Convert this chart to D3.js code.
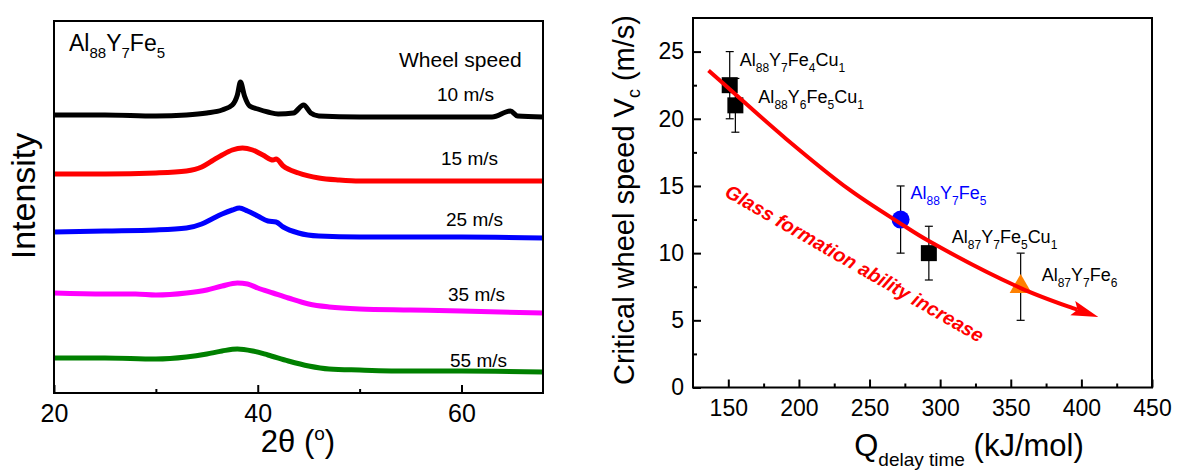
<!DOCTYPE html>
<html>
<head>
<meta charset="utf-8">
<script src="https://cdn.jsdelivr.net/npm/d3@7"></script>
<style>
  body { margin: 0; background: #fff; }
  svg { display: block; font-family: "Liberation Sans", Arial, sans-serif; }
</style>
</head>
<body>
<div id="chart"></div>
<script>
// ---- left panel data: XRD traces, [2theta, intensity (a.u., stacked)] ----
const speeds = ['10 m/s', '15 m/s', '25 m/s', '35 m/s', '55 m/s'];
const traceColors = ['#000000', '#ff0000', '#0000ff', '#ff00ff', '#008000'];

const xrd10 = [[20,278],[25,278],[30,277],[33,278],[35,280],[36.5,283],[37.5,288],[38,298],[38.3,311],
  [38.7,297],[39.2,287],[40,284],[41,281],[42,279],[43.5,280],[44.5,288],[45.2,280],[46,277],
  [50,276],[55,276],[60,276],[63,276],[64.8,282],[65.5,277],[68,276]];
const xrd15 = [[20,219],[25,219],[30,220],[33,222],[34.5,226],[35.5,232],[36.5,238],[37.5,243],[38.5,245],
  [39.5,243],[40.5,238],[41.5,233],[41.8,234],[42.5,227],[44,220],[46,215],[48,213],[50,212],
  [55,212],[60,212],[68,212]];
const xrd25 = [[20,161],[25,162],[30,163],[33,165],[34.5,169],[35.5,174],[36.5,179],[37.5,183],[38.2,185],
  [39,182],[40,177],[41,172],[41.8,171],[42.5,166],[44,160],[46,157],[50,156],[55,156],[60,156],[68,155]];
const xrd35 = [[20,100],[25,99],[28,99],[30,98],[33,100],[35,103],[36.5,107],[38,110],[39,109],
  [40,105],[41.5,100],[43,95],[45,89],[47,86],[50,84],[55,83],[60,82],[68,80]];
const xrd55 = [[20,35],[25,35],[30,34],[33,36],[35,39],[36.5,42],[38,44],[39.5,42],[41,38],
  [43,32],[45,27],[47,24],[50,23],[55,22],[60,22],[68,21]];
const traces = [xrd10, xrd15, xrd25, xrd35, xrd55];

const xrdTicks = [20, 40, 60];
const xrdMinor = [30, 50];

// ---- right panel data ----
const alloys = ['Al88Y7Fe4Cu1', 'Al88Y6Fe5Cu1', 'Al88Y7Fe5', 'Al87Y7Fe5Cu1', 'Al87Y7Fe6'];
const qDelay = [151, 155, 272, 292, 357];          // kJ/mol
const vc = [22.5, 21, 12.5, 10, 7.5];              // m/s
const vcErr = [2.5, 2, 2.5, 2, 2.5];
const markerType = ['square', 'square', 'circle', 'square', 'triangle'];
const markerColor = ['#000000', '#000000', '#0000ff', '#000000', '#ff8000'];

// guide curve
const curveQ = [136, 151, 191, 236, 272, 292, 357, 394, 412];
const curveV = [23.6, 22.2, 18.5, 14.7, 12.2, 10.9, 7.4, 5.9, 5.25];

const qTicks = [150, 200, 250, 300, 350, 400, 450];
const qMinor = [175, 225, 275, 325, 375, 425];
const vTicks = [0, 5, 10, 15, 20, 25];
const vMinor = [2.5, 7.5, 12.5, 17.5, 22.5];

// label offsets from each marker (px)
const labelOffset = [[10, -19], [23, -2], [10, -21], [23, -10], [21, -6]];

const svg = d3.select('#chart').append('svg')
  .attr('width', 1178)
  .attr('height', 472);

// writes a chemical formula with digit subscripts
function formula(sel, str, size, subSize, shift) {
  let prevSub = false;
  str.match(/[A-Za-z]+|\d+/g).forEach(p => {
    const isSub = /\d/.test(p);
    let dy = 0;
    if (isSub && !prevSub) dy = shift;
    if (!isSub && prevSub) dy = -shift;
    sel.append('tspan')
      .attr('dy', dy)
      .attr('font-size', isSub ? subSize : size)
      .text(p);
    prevSub = isSub;
  });
  return sel;
}

function styleAxis(g, fs) {
  g.select('.domain').remove();
  g.selectAll('.tick line').attr('stroke', '#000').attr('stroke-width', 2);
  g.selectAll('.tick text').attr('fill', '#000').attr('font-size', fs)
    .attr('font-family', '"Liberation Sans", Arial, sans-serif');
}

// ================= LEFT PANEL =================
const xL = d3.scaleLinear().domain([20, 68]).range([54, 543]);
const yL = d3.scaleLinear().domain([0, 372]).range([393, 21]);

const line = d3.line()
  .x(d => xL(d[0]))
  .y(d => yL(d[1]))
  .curve(d3.curveMonotoneX);

svg.append('g').selectAll('path')
  .data(traces)
  .enter().append('path')
  .attr('d', line)
  .attr('fill', 'none')
  .attr('stroke', (d, i) => traceColors[i])
  .attr('stroke-width', 5)
  .attr('stroke-linejoin', 'round');

svg.append('g')
  .attr('transform', 'translate(0,393)')
  .call(d3.axisBottom(xL).tickValues(xrdTicks).tickSize(-8).tickPadding(11).tickFormat(d3.format('d')))
  .call(g => styleAxis(g, 25));
svg.append('g')
  .attr('transform', 'translate(0,393)')
  .call(d3.axisBottom(xL).tickValues(xrdMinor).tickSize(-4).tickFormat(''))
  .call(g => styleAxis(g, 25));

svg.append('rect')
  .attr('x', 54).attr('y', 21)
  .attr('width', 489).attr('height', 372)
  .attr('fill', 'none').attr('stroke', '#000').attr('stroke-width', 2);

// speed labels
const speedPos = [[437, 101], [441, 165], [446, 226], [448, 301], [450, 367]];
svg.append('g').selectAll('text')
  .data(speeds)
  .enter().append('text')
  .attr('x', (d, i) => speedPos[i][0])
  .attr('y', (d, i) => speedPos[i][1])
  .attr('font-size', 19)
  .text(d => d);

svg.append('text')
  .attr('x', 399).attr('y', 67)
  .attr('font-size', 21)
  .text('Wheel speed');

formula(svg.append('text').attr('x', 69).attr('y', 51), 'Al88Y7Fe5', 23, 15, 7);

svg.append('text')
  .attr('transform', 'translate(35,196) rotate(-90)')
  .attr('text-anchor', 'middle')
  .attr('font-size', 34)
  .text('Intensity');

const tt = svg.append('text')
  .attr('x', 298).attr('y', 452)
  .attr('text-anchor', 'middle')
  .attr('font-size', 31)
  .text('2θ (');
tt.append('tspan').attr('font-size', 19).attr('dy', -12).text('o');
tt.append('tspan').attr('dy', 12).text(')');

// ================= RIGHT PANEL =================
const xR = d3.scaleLinear().domain([125, 450]).range([693, 1152]);
const yR = d3.scaleLinear().domain([0, 27.5]).range([387.5, 18]);

svg.append('g')
  .attr('transform', 'translate(0,387.5)')
  .call(d3.axisBottom(xR).tickValues(qTicks).tickSize(-8).tickPadding(12).tickFormat(d3.format('d')))
  .call(g => styleAxis(g, 23));
svg.append('g')
  .attr('transform', 'translate(0,387.5)')
  .call(d3.axisBottom(xR).tickValues(qMinor).tickSize(-4).tickFormat(''))
  .call(g => styleAxis(g, 23));
svg.append('g')
  .attr('transform', 'translate(693,0)')
  .call(d3.axisLeft(yR).tickValues(vTicks).tickSize(-8).tickPadding(9).tickFormat(d3.format('d')))
  .call(g => styleAxis(g, 23));
svg.append('g')
  .attr('transform', 'translate(693,0)')
  .call(d3.axisLeft(yR).tickValues(vMinor).tickSize(-4).tickFormat(''))
  .call(g => styleAxis(g, 23));

svg.append('rect')
  .attr('x', 693).attr('y', 18)
  .attr('width', 459).attr('height', 369.5)
  .attr('fill', 'none').attr('stroke', '#000').attr('stroke-width', 2);

// error bars
const eb = svg.append('g').attr('stroke', '#000').attr('stroke-width', 1.2);
qDelay.forEach((q, i) => {
  const x = xR(q);
  eb.append('line').attr('x1', x).attr('x2', x)
    .attr('y1', yR(vc[i] - vcErr[i])).attr('y2', yR(vc[i] + vcErr[i]));
  [vc[i] - vcErr[i], vc[i] + vcErr[i]].forEach(v => {
    eb.append('line').attr('x1', x - 4).attr('x2', x + 4)
      .attr('y1', yR(v)).attr('y2', yR(v));
  });
});

// markers
const symbolOf = { square: [d3.symbolSquare, 256], circle: [d3.symbolCircle, 254], triangle: [d3.symbolTriangle, 210] };
svg.append('g').selectAll('path')
  .data(alloys)
  .enter().append('path')
  .attr('transform', (d, i) => `translate(${xR(qDelay[i])},${yR(vc[i])})`)
  .attr('d', (d, i) => d3.symbol().type(symbolOf[markerType[i]][0]).size(symbolOf[markerType[i]][1])())
  .attr('fill', (d, i) => markerColor[i]);

// alloy labels
alloys.forEach((a, i) => {
  const t = svg.append('text')
    .attr('x', xR(qDelay[i]) + labelOffset[i][0])
    .attr('y', yR(vc[i]) + labelOffset[i][1])
    .attr('fill', i === 2 ? '#0000ff' : '#000');
  formula(t, a, 18, 12, 6);
});

// red guide curve with arrow head
const pts = curveQ.map((q, i) => [xR(q), yR(curveV[i])]);
const tip = pts[pts.length - 1];
const base = pts[pts.length - 2];
const ang = Math.atan2(tip[1] - base[1], tip[0] - base[0]);
const ux = Math.cos(ang), uy = Math.sin(ang);
const headLen = 27, headW = 7.5;
const bx = tip[0] - headLen * ux, by = tip[1] - headLen * uy;
const notch = [bx + 5 * ux, by + 5 * uy];

svg.append('path')
  .attr('d', d3.line().curve(d3.curveCatmullRom)(pts.slice(0, -2).concat([[bx, by], notch])))
  .attr('fill', 'none')
  .attr('stroke', '#ff0000')
  .attr('stroke-width', 4);

svg.append('path')
  .attr('d', 'M' + [tip, [bx - headW * uy, by + headW * ux], notch, [bx + headW * uy, by - headW * ux]].join('L') + 'Z')
  .attr('fill', '#ff0000');

svg.append('text')
  .attr('transform', `translate(${xR(237)},${yR(8.8)}) rotate(30)`)
  .attr('text-anchor', 'middle')
  .attr('font-size', 19.5)
  .attr('font-weight', 'bold')
  .attr('font-style', 'italic')
  .attr('fill', '#ff0000')
  .text('Glass formation ability increase');

// axis titles
const yt = svg.append('text')
  .attr('transform', 'translate(634,200) rotate(-90)')
  .attr('text-anchor', 'middle')
  .attr('font-size', 29)
  .text('Critical wheel speed V');
yt.append('tspan').attr('font-size', 18).attr('dy', 6).text('c');
yt.append('tspan').attr('dy', -6).text(' (m/s)');

const xt = svg.append('text')
  .attr('x', 969).attr('y', 456)
  .attr('text-anchor', 'middle')
  .attr('font-size', 31)
  .text('Q');
xt.append('tspan').attr('font-size', 19).attr('dy', 10).text('delay time');
xt.append('tspan').attr('dy', -10).text(' (kJ/mol)');
</script>
</body>
</html>
